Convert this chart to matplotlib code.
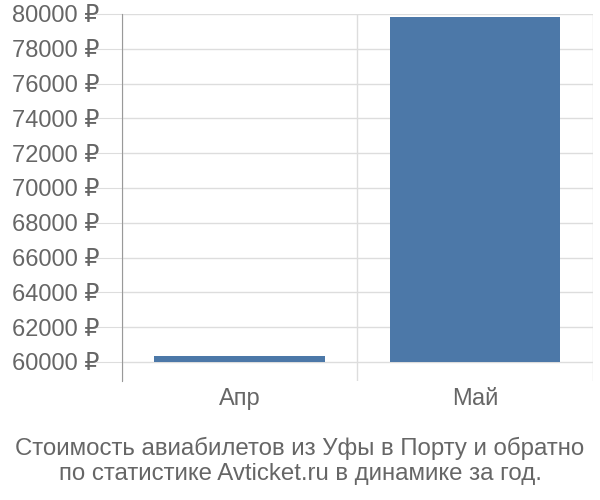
import matplotlib
matplotlib.use("Agg")
import matplotlib.pyplot as plt

months = ["Апр", "Май"]
prices = [60320, 79830]
y_ticks = [60000, 62000, 64000, 66000, 68000, 70000, 72000, 74000, 76000, 78000, 80000]
base = 60000
title = "Стоимость авиабилетов из Уфы в Порту и обратно\nпо статистике Avticket.ru в динамике за год."

plt.rcParams["font.family"] = ["Liberation Sans", "DejaVu Sans"]
text_color = "#666666"
grid_color = "#dddddd"

fig = plt.figure(figsize=(6, 5), dpi=100)
ax = fig.add_axes([0.203, 0.238, 0.785, 0.734])

x = list(range(len(months)))
heights = [p - base for p in prices]
ax.bar(x, heights, bottom=base, width=0.725, color="#4c78a8", zorder=3)

ax.set_xlim(-0.5, len(months) - 0.5)
ax.set_ylim(58900, 80000)
ax.set_yticks(y_ticks)
ax.set_yticklabels([f"{v} ₽" for v in y_ticks])
ax.set_xticks(x)
ax.set_xticklabels(months)

# vertical separators between categories
ax.set_xticks([i - 0.5 for i in range(len(months) + 1)], minor=True)
ax.grid(axis="x", which="minor", color=grid_color, linewidth=1, zorder=0)
ax.grid(axis="y", which="major", color=grid_color, linewidth=1, zorder=0)

for side in ["top", "right", "bottom"]:
    ax.spines[side].set_visible(False)
ax.spines["left"].set_color("#999999")
ax.spines["left"].set_zorder(4)

ax.tick_params(axis="y", length=19, color=grid_color, labelsize=17, labelcolor=text_color, pad=-3)
ax.tick_params(axis="x", which="major", length=0, labelsize=17, labelcolor=text_color, pad=5)
ax.tick_params(axis="x", which="minor", length=0)

fig.text(0.5, 0.03, title, ha="center", va="bottom", fontsize=17.3, color=text_color, linespacing=1.2)

fig.savefig("out.png", dpi=100)
